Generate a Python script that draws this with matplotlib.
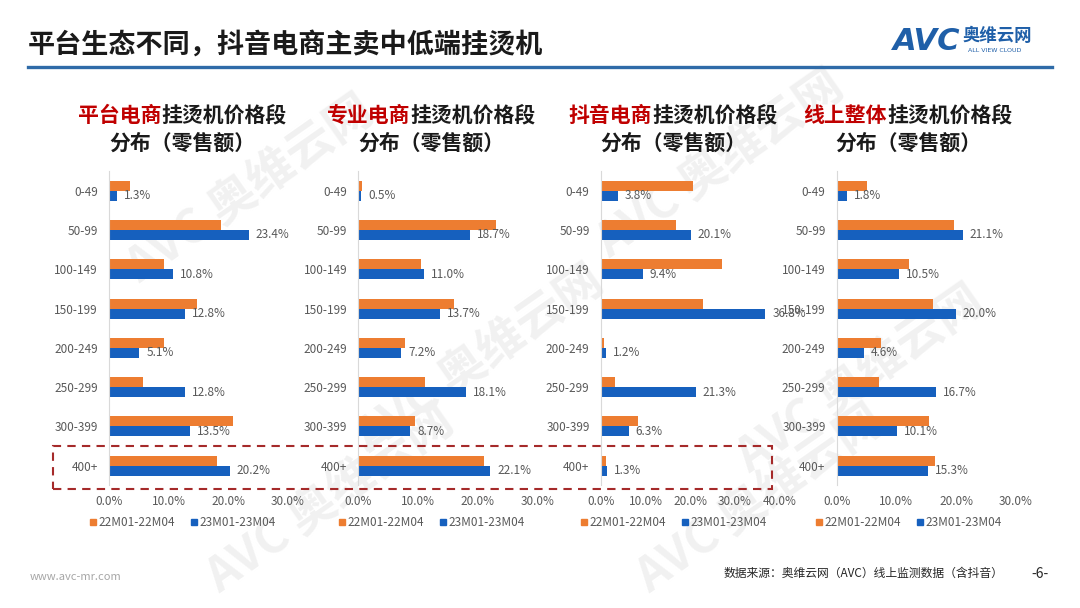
import matplotlib.pyplot as plt
from matplotlib.patches import Rectangle
from matplotlib.lines import Line2D

plt.rcParams['font.family'] = ['Noto Sans CJK SC', 'DejaVu Sans']

# data (% of retail sales by price band)
price_bands = ['0-49', '50-99', '100-149', '150-199', '200-249', '250-299', '300-399', '400+']
series_names = ['22M01-22M04', '23M01-23M04']

platform_22 = [3.5, 18.8, 9.2, 14.7, 9.2, 5.7, 20.7, 18.1]
platform_23 = [1.3, 23.4, 10.8, 12.8, 5.1, 12.8, 13.5, 20.2]
specialty_22 = [0.6, 23.1, 10.5, 16.0, 7.8, 11.1, 9.5, 21.1]
specialty_23 = [0.5, 18.7, 11.0, 13.7, 7.2, 18.1, 8.7, 22.1]
douyin_22 = [20.6, 16.8, 27.0, 22.9, 0.7, 3.2, 8.3, 1.1]
douyin_23 = [3.8, 20.1, 9.4, 36.8, 1.2, 21.3, 6.3, 1.3]
online_22 = [5.1, 19.7, 12.1, 16.2, 7.5, 7.1, 15.4, 16.5]
online_23 = [1.8, 21.1, 10.5, 20.0, 4.6, 16.7, 10.1, 15.3]

panel_red = ['平台电商', '专业电商', '抖音电商', '线上整体']
panel_x_max = [30, 30, 40, 30]

W, H = 1080, 608
ORANGE = '#ED7D31'
BLUE = '#1660BE'
GREY = '#595959'

fig = plt.figure(figsize=(10.8, 6.08), dpi=100)
fig.patch.set_facecolor('white')


def fx(px):
    return px / W


def fy(py):
    return 1 - py / H


# faint watermarks, kept behind everything
for wx, wy in [(250, 190), (720, 165), (480, 360), (860, 380), (330, 500), (760, 500)]:
    fig.text(fx(wx), fy(wy), 'AVC 奥维云网', fontsize=34, fontweight='bold', color='#f1f1f1',
             rotation=35, ha='center', va='center', zorder=-5)

# header
fig.text(fx(28), fy(45), '平台生态不同，抖音电商主卖中低端挂烫机', fontsize=19.5, fontweight='bold',
         color='#1a1a1a', va='center', ha='left')
fig.add_artist(Line2D([fx(28), fx(1052)], [fy(67), fy(67)], color='#2F6BA8', lw=2.4))
fig.text(fx(893), fy(41), 'AVC', fontsize=22, fontweight='bold', style='italic', color='#1F5FA8',
         family='DejaVu Sans', va='center', ha='left')
fig.text(fx(963), fy(36), '奥维云网', fontsize=12.5, fontweight='bold', color='#1F5FA8', va='center')
fig.text(fx(968), fy(51), 'ALL VIEW CLOUD', fontsize=4.5, color='#1F5FA8', va='center',
         family='DejaVu Sans')

series = [(platform_22, platform_23), (specialty_22, specialty_23),
          (douyin_22, douyin_23), (online_22, online_23)]
axes_left = [109, 358.3, 600.7, 836.7]
title_cx = [182, 431, 673, 908]
axes_w = 179
ax_top, ax_bot = 171, 485.4
bar_h = 0.255
ys = list(range(len(price_bands)))

for i, (s22, s23) in enumerate(series):
    ax = fig.add_axes([fx(axes_left[i]), fy(ax_bot), fx(axes_w), (ax_bot - ax_top) / H])
    ax.set_facecolor('none')
    ax.set_zorder(1)
    ax.barh([y - bar_h / 2 for y in ys], s22, height=bar_h, color=ORANGE)
    blue = ax.barh([y + bar_h / 2 for y in ys], s23, height=bar_h, color=BLUE)
    ax.bar_label(blue, labels=[f'{v:.1f}%' for v in s23], padding=5, fontsize=8.5, color=GREY)
    ax.set_ylim(len(price_bands) - 0.5, -0.5)
    ax.set_xlim(0, panel_x_max[i])
    ax.set_yticks(ys)
    ax.set_yticklabels(price_bands)
    xt = list(range(0, panel_x_max[i] + 1, 10))
    ax.set_xticks(xt)
    ax.set_xticklabels([f'{t:.1f}%' for t in xt])
    ax.tick_params(length=0, labelsize=8.5, labelcolor=GREY)
    ax.tick_params(axis='y', pad=8)
    ax.tick_params(axis='x', pad=7)
    for side in ['top', 'right', 'bottom']:
        ax.spines[side].set_visible(False)
    ax.spines['left'].set_color('#d9d9d9')

    # two-colour title
    cx = title_cx[i]
    cw = 15 * 100 / 72
    split = cx - cw
    fig.text(fx(split), fy(115), panel_red[i], fontsize=15, fontweight='bold', color='#C00000',
             ha='right', va='center')
    fig.text(fx(split), fy(115), '挂烫机价格段', fontsize=15, fontweight='bold', color='#1a1a1a',
             ha='left', va='center')
    fig.text(fx(cx), fy(143), '分布（零售额）', fontsize=15, fontweight='bold', color='#1a1a1a',
             ha='center', va='center')

    handles = [Line2D([], [], marker='s', ls='none', color=ORANGE, markersize=4.5),
               Line2D([], [], marker='s', ls='none', color=BLUE, markersize=4.5)]
    fig.legend(handles, series_names, loc='center', bbox_to_anchor=(fx(cx), fy(523)), ncol=2,
               frameon=False, fontsize=8.5, handletextpad=0.1, columnspacing=1.2,
               handlelength=0.8, labelcolor=GREY)

# highlight box around 400+
fig.add_artist(Rectangle((fx(53), fy(489)), fx(772 - 53), 43 / H, fill=False,
                         ec='#A52A2A', ls=(0, (4, 3)), lw=1.5, zorder=3))

# footer
fig.text(fx(30), fy(577), 'www.avc-mr.com', fontsize=8, color='#a6a6a6', va='center')
fig.text(fx(1003), fy(573), '数据来源：奥维云网（AVC）线上监测数据（含抖音）', fontsize=8.5,
         color='#262626', ha='right', va='center')
fig.text(fx(1040), fy(574), '-6-', fontsize=10, color='#262626', ha='center', va='center')

fig.savefig('out.png', dpi=100)
